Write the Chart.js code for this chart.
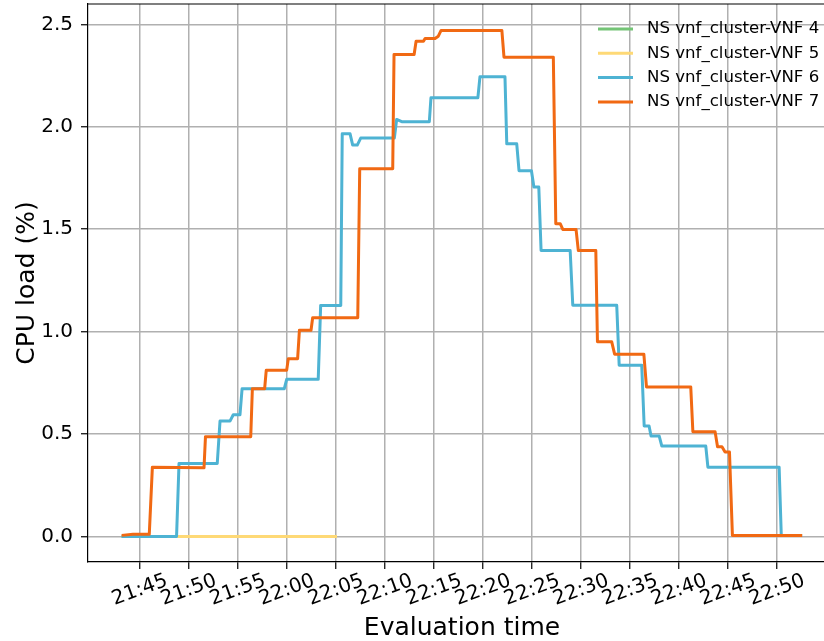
<!DOCTYPE html>
<html lang="en">
<head>
    <meta charset="UTF-8">
    <title>CPU load</title>
    <script src="https://cdn.jsdelivr.net/npm/chart.js"></script>
    <style>
        html, body {
            margin: 0;
            padding: 0;
            background: #fff;
            overflow: hidden;
        }
        #wrap {
            width: 840px;
            height: 641px;
        }
    </style>
</head>
<body>

    <div id="wrap">
        <canvas id="cpuChart" width="840" height="641"></canvas>
    </div>

    <script>
        // CPU load samples per VNF (clock time, load %)
        const vnf4Time = ['21:43:08', '21:48:44'];
        const vnf4Load = [0, 0];

        const vnf5Time = ['21:48:44', '22:05:06'];
        const vnf5Load = [0, 0];

        const vnf6Time = [
            '21:43:08', '21:48:44', '21:48:59', '21:52:53', '21:53:10', '21:54:11', '21:54:31', '21:55:12',
            '21:55:25', '21:59:43', '21:59:58', '22:03:11', '22:03:26', '22:05:29', '22:05:38', '22:06:26',
            '22:06:42', '22:07:10', '22:07:31', '22:10:57', '22:11:11', '22:11:42', '22:14:31', '22:14:41',
            '22:19:28', '22:19:41', '22:22:14', '22:22:25', '22:23:26', '22:23:40', '22:24:56', '22:25:11',
            '22:25:41', '22:25:55', '22:28:53', '22:29:09', '22:33:38', '22:33:53', '22:36:11', '22:36:26',
            '22:36:56', '22:37:08', '22:37:58', '22:38:14', '22:42:43', '22:42:56', '22:50:12', '22:50:25',
            '22:52:33'
        ];
        const vnf6Load = [
            0, 0, 0.356, 0.356, 0.563, 0.563, 0.594, 0.594,
            0.721, 0.721, 0.767, 0.767, 1.128, 1.128, 1.966, 1.966,
            1.911, 1.911, 1.945, 1.945, 2.036, 2.025, 2.025, 2.142,
            2.142, 2.245, 2.245, 1.917, 1.917, 1.786, 1.786, 1.706,
            1.706, 1.396, 1.396, 1.129, 1.129, 0.836, 0.836, 0.539,
            0.539, 0.49, 0.49, 0.441, 0.441, 0.338, 0.338, 0.005,
            0.005
        ];

        const vnf7Time = [
            '21:43:08', '21:44:17', '21:45:57', '21:46:16', '21:51:32', '21:51:41', '21:56:18', '21:56:28',
            '21:57:43', '21:57:53', '21:59:58', '22:00:08', '22:01:05', '22:01:16', '22:02:27', '22:02:37',
            '22:07:13', '22:07:25', '22:10:47', '22:10:55', '22:12:58', '22:13:10', '22:13:55', '22:14:05',
            '22:15:06', '22:15:26', '22:15:43', '22:21:55', '22:22:08', '22:27:10', '22:27:25', '22:27:52',
            '22:28:08', '22:29:29', '22:29:43', '22:31:30', '22:31:40', '22:33:07', '22:33:25', '22:36:24',
            '22:36:40', '22:41:11', '22:41:24', '22:43:40', '22:43:55', '22:44:22', '22:44:41', '22:45:08',
            '22:45:26', '22:52:33'
        ];
        const vnf7Load = [
            0.005, 0.01, 0.01, 0.338, 0.335, 0.487, 0.487, 0.721,
            0.721, 0.812, 0.812, 0.868, 0.868, 1.007, 1.007, 1.068,
            1.068, 1.795, 1.795, 2.353, 2.353, 2.418, 2.418, 2.432,
            2.432, 2.443, 2.471, 2.471, 2.34, 2.34, 1.527, 1.527,
            1.499, 1.499, 1.396, 1.396, 0.951, 0.951, 0.89, 0.89,
            0.73, 0.73, 0.511, 0.511, 0.438, 0.438, 0.412, 0.412,
            0.005, 0.005
        ];

        const xTickLabels = ['21:45', '21:50', '21:55', '22:00', '22:05', '22:10', '22:15',
                             '22:20', '22:25', '22:30', '22:35', '22:40', '22:45', '22:50'];
        const yTicks = [0, 0.5, 1.0, 1.5, 2.0, 2.5];

        // minutes since 21:00
        function toMinutes(hms) {
            const p = hms.split(':').map(Number);
            return (p[0] - 21) * 60 + p[1] + (p[2] || 0) / 60;
        }

        function serie(times, loads) {
            return times.map((t, i) => ({ x: toMinutes(t), y: loads[i] }));
        }

        const xTickValues = xTickLabels.map(toMinutes);
        const FONT = 'DejaVu Sans';

        function linea(label, color, data, order) {
            return {
                label: label,
                data: data,
                borderColor: color,
                backgroundColor: color,
                borderWidth: 3,
                borderJoinStyle: 'round',
                pointRadius: 0,
                tension: 0,
                fill: false,
                order: order
            };
        }

        // recuadro completo del area (arriba y derecha)
        const marco = {
            id: 'marco',
            afterDatasetsDraw(chart) {
                const { ctx, chartArea: a } = chart;
                ctx.save();
                ctx.strokeStyle = '#000';
                ctx.lineWidth = 1.2;
                ctx.beginPath();
                ctx.moveTo(a.left, a.top);
                ctx.lineTo(a.right, a.top);
                ctx.lineTo(a.right, a.bottom);
                ctx.stroke();
                ctx.restore();
            }
        };

        // leyenda sin marco dentro del area, arriba a la derecha
        const leyenda = {
            id: 'leyenda',
            afterDraw(chart) {
                const ctx = chart.ctx;
                const x0 = 598, x1 = 633, xt = 647;
                let y = 29;
                ctx.save();
                ctx.font = '16.6px "' + FONT + '"';
                ctx.textBaseline = 'middle';
                ctx.textAlign = 'left';
                chart.data.datasets.forEach(ds => {
                    ctx.strokeStyle = ds.borderColor;
                    ctx.lineWidth = 3;
                    ctx.beginPath();
                    ctx.moveTo(x0, y);
                    ctx.lineTo(x1, y);
                    ctx.stroke();
                    ctx.fillStyle = '#000';
                    ctx.fillText(ds.label, xt, y);
                    y += 24.3;
                });
                ctx.restore();
            }
        };

        const ctx = document.getElementById('cpuChart').getContext('2d');
        const grafica = new Chart(ctx, {
            type: 'line',
            data: {
                datasets: [
                    linea('NS vnf_cluster-VNF 4', '#74c476', serie(vnf4Time, vnf4Load), 3),
                    linea('NS vnf_cluster-VNF 5', '#fed976', serie(vnf5Time, vnf5Load), 2),
                    linea('NS vnf_cluster-VNF 6', '#4eb3d3', serie(vnf6Time, vnf6Load), 1),
                    linea('NS vnf_cluster-VNF 7', '#f16913', serie(vnf7Time, vnf7Load), 0)
                ]
            },
            options: {
                responsive: false,
                animation: false,
                devicePixelRatio: 1,
                layout: { padding: { top: 4, right: 4, left: 0, bottom: 0 } },
                plugins: {
                    legend: { display: false },
                    tooltip: { enabled: false }
                },
                scales: {
                    x: {
                        type: 'linear',
                        min: 39.7,
                        max: 116.0,
                        afterBuildTicks: s => { s.ticks = xTickValues.map(v => ({ value: v })); },
                        afterFit: s => {
                            s.height = 79;
                            s.paddingLeft = 0;
                            s.paddingRight = 0;
                        },
                        grid: { color: '#b0b0b0', lineWidth: 1.5, tickColor: '#000', tickLength: 7, tickWidth: 1.2 },
                        border: { color: '#000', width: 1.2 },
                        ticks: {
                            autoSkip: false,
                            minRotation: 20,
                            maxRotation: 20,
                            labelOffset: 27,
                            padding: 0,
                            color: '#000',
                            font: { family: FONT, size: 20 },
                            callback: (v, i) => xTickLabels[i]
                        },
                        title: {
                            display: true,
                            text: 'Evaluation time',
                            color: '#000',
                            font: { family: FONT, size: 25, lineHeight: 1 },
                            padding: { top: 0, bottom: 0 }
                        }
                    },
                    y: {
                        min: -0.125,
                        max: 2.6,
                        afterBuildTicks: s => { s.ticks = yTicks.map(v => ({ value: v })); },
                        afterFit: s => {
                            s.width = 88;
                            s.paddingTop = 0;
                            s.paddingBottom = 0;
                        },
                        grid: { color: '#b0b0b0', lineWidth: 1.5, tickColor: '#000', tickLength: 7, tickWidth: 1.2 },
                        border: { color: '#000', width: 1.2 },
                        ticks: {
                            padding: 8,
                            color: '#000',
                            font: { family: FONT, size: 20 },
                            callback: v => v.toFixed(1)
                        },
                        title: {
                            display: true,
                            text: 'CPU load (%)',
                            color: '#000',
                            font: { family: FONT, size: 25 },
                            padding: { top: 12, bottom: 0 }
                        }
                    }
                }
            },
            plugins: [marco, leyenda]
        });
    </script>
</body>
</html>
